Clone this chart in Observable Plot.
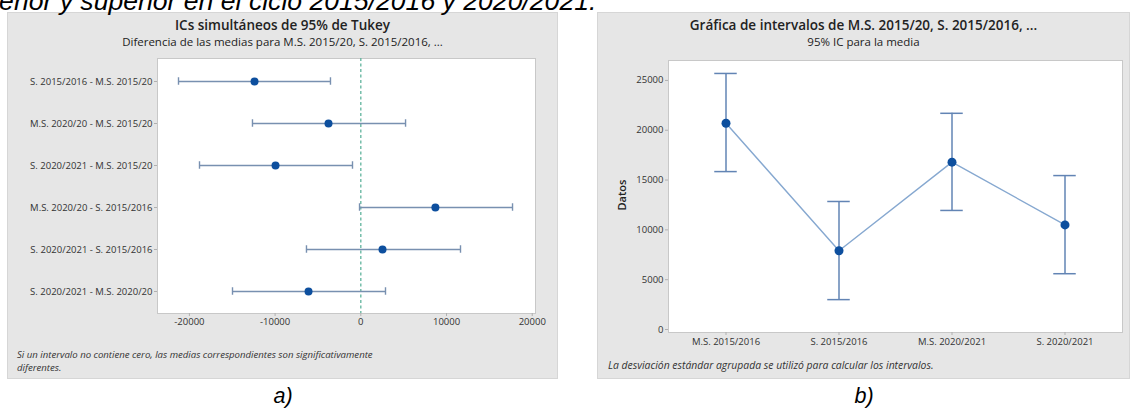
<!DOCTYPE html>
<html>
<head>
<meta charset="utf-8">
<script src="https://cdn.jsdelivr.net/npm/d3@7"></script>
<script src="https://cdn.jsdelivr.net/npm/@observablehq/plot@0.6"></script>
<style>
  html, body { margin: 0; padding: 0; background: #fff; }
  #root { position: relative; width: 1132px; height: 409px; overflow: hidden; background: #fff; }
  .abs { position: absolute; white-space: nowrap; }
  .panel { position: absolute; background: #e6e6e6; border: 1px solid #d6d6d6; box-sizing: border-box; }
  .title { font-family: "Open Sans", sans-serif; font-weight: 600; font-size: 13.5px; color: #222; text-align: center; line-height: 16px; }
  .subtitle { font-family: "Open Sans", sans-serif; font-size: 11.5px; color: #222; text-align: center; line-height: 14px; }
  .note { font-family: "Open Sans", sans-serif; font-style: italic; color: #333; line-height: 13px; }
  .sub { font-family: "Liberation Sans", Arial, sans-serif; font-style: italic; font-size: 21.5px; color: #000; line-height: 24px; text-align: center; }
</style>
</head>
<body>
<div id="root">
  <div class="panel" style="left:7px; top:12px; width:551px; height:367px;"></div>
  <div class="panel" style="left:597px; top:12px; width:533px; height:367px;"></div>

  <div class="abs" style="left:-29px; top:-14px; height:26px; font-family:'Liberation Sans', Arial, sans-serif; font-style:italic; font-size:26.6px; line-height:30px; color:#000;">inferior y superior en el ciclo 2015/2016 y 2020/2021.</div>

  <div class="abs title" style="left:7px; width:551px; top:17px;">ICs simultáneos de 95% de Tukey</div>
  <div class="abs subtitle" style="left:7px; width:551px; top:35px;">Diferencia de las medias para M.S. 2015/20, S. 2015/2016, ...</div>
  <div class="abs title" style="left:597px; width:533px; top:17px;">Gráfica de intervalos de M.S. 2015/20, S. 2015/2016, ...</div>
  <div class="abs subtitle" style="left:597px; width:533px; top:35px;">95% IC para la media</div>

  <div id="chartA" class="abs" style="left:7px; top:11px;"></div>
  <div id="chartB" class="abs" style="left:597px; top:11px;"></div>

  <div class="abs" style="left:602px; top:188px; width:40px; text-align:center; transform:rotate(-90deg); transform-origin:center; font-family:'Open Sans', sans-serif; font-weight:600; font-size:11px; color:#222; line-height:14px;">Datos</div>

  <div class="abs note" style="left:17px; top:348px; font-size:9.6px;">Si un intervalo no contiene cero, las medias correspondientes son significativamente<br>diferentes.</div>
  <div class="abs note" style="left:608px; top:359px; font-size:10.4px;">La desviación estándar agrupada se utilizó para calcular los intervalos.</div>

  <div class="abs sub" style="left:243px; width:80px; top:384px;">a)</div>
  <div class="abs sub" style="left:824px; width:80px; top:384px;">b)</div>
</div>
<script>
// ---- Chart a) Tukey simultaneous 95% CIs ----
const comparisons = [
  "S. 2015/2016 - M.S. 2015/20",
  "M.S. 2020/20 - M.S. 2015/20",
  "S. 2020/2021 - M.S. 2015/20",
  "M.S. 2020/20 - S. 2015/2016",
  "S. 2020/2021 - S. 2015/2016",
  "S. 2020/2021 - M.S. 2020/20"
];
const diffCenter = [-12400, -3770, -9950, 8700, 2530, -6100];
const diffLower  = [-21270, -12640, -18820, -150, -6340, -14970];
const diffUpper  = [-3540, 5220, -970, 17700, 11630, 2880];
const xTicksA = [-20000, -10000, 0, 10000, 20000];

// ---- Chart b) Interval plot, 95% CI for the mean ----
const groups = ["M.S. 2015/2016", "S. 2015/2016", "M.S. 2020/2021", "S. 2020/2021"];
const means  = [20700, 7900, 16800, 10500];
const lower  = [15850, 3000, 11950, 5600];
const upper  = [25700, 12850, 21700, 15450];
const yTicksB = [0, 5000, 10000, 15000, 20000, 25000];

const tukey = comparisons.map((c, i) => ({c, mid: diffCenter[i], lo: diffLower[i], hi: diffUpper[i]}));
const ci = groups.map((g, i) => ({g, m: means[i], lo: lower[i], hi: upper[i]}));

const fmt = d => String(d);
const baseStyle = {background: "transparent", fontFamily: "Open Sans, sans-serif", fontSize: "9.5px", color: "#333", overflow: "visible"};

const bandA = 255 / 6;
const capA = 8;
const chartA = Plot.plot({
  width: 551, height: 368,
  marginLeft: 150, marginRight: 23, marginTop: 47, marginBottom: 66,
  style: baseStyle,
  x: {domain: [-23720, 20380]},
  y: {type: "band", domain: comparisons, padding: 0},
  marks: [
    Plot.frame({fill: "white", stroke: "#c8c8c8"}),
    Plot.axisX({ticks: xTicksA, tickFormat: fmt, tickSize: 3, tickPadding: 2, stroke: "#b0b0b0", fill: "#333", label: null}),
    Plot.axisY({tickSize: 3, tickPadding: 2, stroke: "#b0b0b0", fill: "#333", label: null}),
    Plot.ruleX([0], {stroke: "#5fb39c", strokeWidth: 1.3, strokeDasharray: "3,2.5"}),
    Plot.ruleY(tukey, {y: "c", x1: "lo", x2: "hi", stroke: "#7890b0", strokeWidth: 1.4}),
    Plot.tickX(tukey, {y: "c", x: "lo", stroke: "#7890b0", strokeWidth: 1.4, insetTop: (bandA - capA) / 2, insetBottom: (bandA - capA) / 2}),
    Plot.tickX(tukey, {y: "c", x: "hi", stroke: "#7890b0", strokeWidth: 1.4, insetTop: (bandA - capA) / 2, insetBottom: (bandA - capA) / 2}),
    Plot.dot(tukey, {y: "c", x: "mid", r: 4, fill: "#0d4f9e", stroke: "none"})
  ]
});
document.getElementById("chartA").append(chartA);

const bandB = 454 / 4;
const capB = 23;
const chartB = Plot.plot({
  width: 533, height: 368,
  marginLeft: 71, marginRight: 8, marginTop: 49, marginBottom: 47,
  style: baseStyle,
  x: {type: "band", domain: groups, padding: 0},
  y: {domain: [-300, 27000]},
  marks: [
    Plot.frame({fill: "white", stroke: "#c8c8c8"}),
    Plot.axisX({tickSize: 3, tickPadding: 3, stroke: "#b0b0b0", fill: "#333", label: null}),
    Plot.axisY({ticks: yTicksB, tickFormat: fmt, tickSize: 3, tickPadding: 2, stroke: "#b0b0b0", fill: "#333", label: null}),
    Plot.line(ci, {x: "g", y: "m", stroke: "#86a8d0", strokeWidth: 1.4}),
    Plot.ruleX(ci, {x: "g", y1: "lo", y2: "hi", stroke: "#6284b4", strokeWidth: 1.5}),
    Plot.tickY(ci, {x: "g", y: "lo", stroke: "#6284b4", strokeWidth: 1.5, insetLeft: (bandB - capB) / 2, insetRight: (bandB - capB) / 2}),
    Plot.tickY(ci, {x: "g", y: "hi", stroke: "#6284b4", strokeWidth: 1.5, insetLeft: (bandB - capB) / 2, insetRight: (bandB - capB) / 2}),
    Plot.dot(ci, {x: "g", y: "m", r: 4.5, fill: "#0d4f9e", stroke: "none"})
  ]
});
document.getElementById("chartB").append(chartB);
</script>
</body>
</html>
